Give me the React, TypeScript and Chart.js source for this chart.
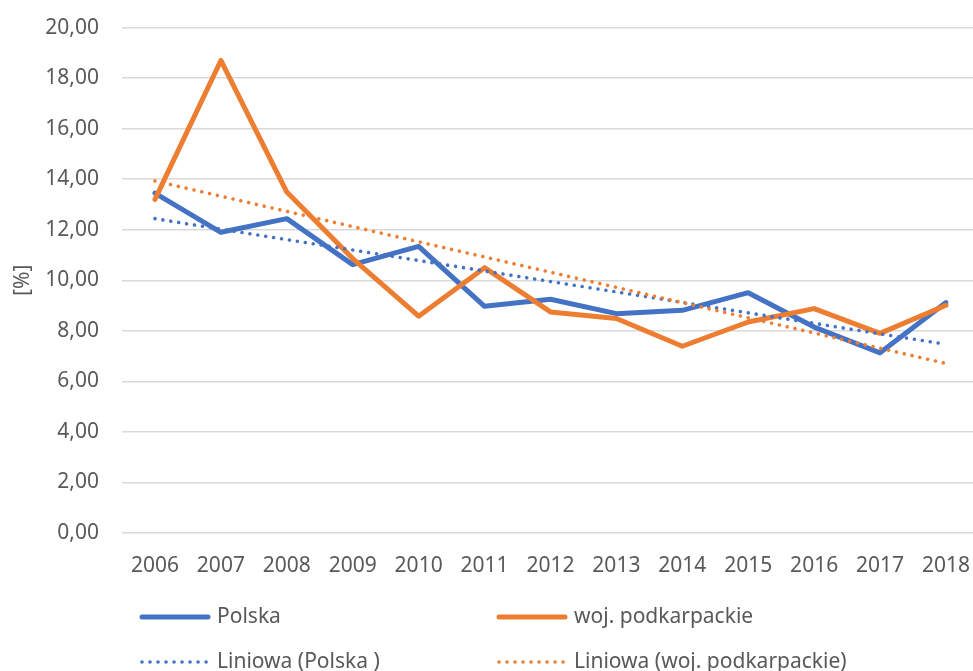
import React, { useEffect, useRef } from "react";
import { Chart, registerables } from "chart.js";

Chart.register(...registerables);

const years = ["2006", "2007", "2008", "2009", "2010", "2011", "2012", "2013", "2014", "2015", "2016", "2017", "2018"];
const polska = [13.45, 11.9, 12.44, 10.62, 11.34, 8.97, 9.25, 8.68, 8.81, 9.51, 8.15, 7.13, 9.12];
const podkarpackie = [13.2, 18.7, 13.49, 10.86, 8.58, 10.5, 8.75, 8.49, 7.39, 8.35, 8.88, 7.9, 9.01];
const trendPolska = [12.44, null, null, null, null, null, null, null, null, null, null, null, 7.47];
const trendPodkarpackie = [13.93, null, null, null, null, null, null, null, null, null, null, null, 6.71];
const seriesLabels = ["Polska", "woj. podkarpackie", "Liniowa (Polska )", "Liniowa (woj. podkarpackie)"];
const yAxisTitle = "[%]";
const yMin = 0;
const yMax = 20;
const yStep = 2;

const BLUE = "#4472C4";
const ORANGE = "#ED7D31";
const TEXT = "#595959";
const GRID = "#D9D9D9";
const FONT = "'Noto Sans', sans-serif";

const legendPlugin = {
  id: "customLegend",
  afterDraw(chart: any) {
    const { ctx, chartArea } = chart;
    const colX = [chartArea.left + 18, chartArea.left + 375];
    const rowY = [chartArea.bottom + 84, chartArea.bottom + 129];
    chart.data.datasets.forEach((ds: any, i: number) => {
      const x = colX[i % 2];
      const y = rowY[Math.floor(i / 2)];
      ctx.save();
      ctx.beginPath();
      ctx.strokeStyle = ds.borderColor;
      ctx.lineWidth = ds.borderWidth;
      ctx.lineCap = "round";
      ctx.setLineDash(ds.borderDash || []);
      ctx.moveTo(x + 2, y);
      ctx.lineTo(x + 68, y);
      ctx.stroke();
      ctx.setLineDash([]);
      ctx.fillStyle = TEXT;
      ctx.font = `21px ${FONT}`;
      ctx.textBaseline = "middle";
      ctx.textAlign = "left";
      ctx.fillText(ds.label, x + 77, y);
      ctx.restore();
    });
  },
};

export default function App() {
  const ref = useRef<HTMLCanvasElement | null>(null);
  useEffect(() => {
    if (!ref.current) return;
    const chart = new Chart(ref.current, {
      type: "line",
      data: {
        labels: years,
        datasets: [
          {
            label: seriesLabels[0],
            data: polska,
            borderColor: BLUE,
            backgroundColor: BLUE,
            borderWidth: 5,
            pointRadius: 0,
            tension: 0,
            borderJoinStyle: "round",
            borderCapStyle: "round",
            order: 4,
          },
          {
            label: seriesLabels[1],
            data: podkarpackie,
            borderColor: ORANGE,
            backgroundColor: ORANGE,
            borderWidth: 5,
            pointRadius: 0,
            tension: 0,
            borderJoinStyle: "round",
            borderCapStyle: "round",
            order: 3,
          },
          {
            label: seriesLabels[2],
            data: trendPolska,
            borderColor: BLUE,
            backgroundColor: BLUE,
            borderWidth: 3.6,
            borderDash: [0.01, 8],
            borderCapStyle: "round",
            pointRadius: 0,
            spanGaps: true,
            order: 2,
          },
          {
            label: seriesLabels[3],
            data: trendPodkarpackie,
            borderColor: ORANGE,
            backgroundColor: ORANGE,
            borderWidth: 3.6,
            borderDash: [0.01, 8],
            borderCapStyle: "round",
            pointRadius: 0,
            spanGaps: true,
            order: 1,
          },
        ] as any,
      },
      options: {
        animation: false,
        responsive: false,
        maintainAspectRatio: false,
        layout: { padding: { left: 0, right: 0, top: 0, bottom: 0 } },
        plugins: {
          legend: { display: false },
          tooltip: { enabled: false },
        },
        scales: {
          x: {
            offset: true,
            grid: { display: false, drawTicks: false, offset: true },
            border: { display: false },
            ticks: {
              color: TEXT,
              font: { family: FONT, size: 21 },
              padding: 20,
              maxRotation: 0,
              autoSkip: false,
            },
            afterFit: (scale: any) => {
              scale.height = 138;
            },
          },
          y: {
            min: yMin,
            max: yMax,
            grid: { color: GRID, lineWidth: 1.6, drawTicks: false },
            border: { display: false },
            ticks: {
              stepSize: yStep,
              color: TEXT,
              padding: 23,
              font: { family: FONT, size: 21 },
              callback: (v: any) => Number(v).toFixed(2).replace(".", ","),
            },
            title: {
              display: true,
              text: yAxisTitle,
              color: TEXT,
              font: { family: FONT, size: 21 },
              padding: { top: 10, bottom: 0 },
            },
            afterFit: (scale: any) => {
              scale.width = 122;
            },
          },
        },
      },
      plugins: [legendPlugin],
    });
    return () => chart.destroy();
  }, []);

  return (
    <div
      style={{
        position: "absolute",
        left: 0,
        top: 0,
        width: 973,
        height: 671,
        overflow: "hidden",
        background: "#fff",
      }}
    >
      <canvas
        ref={ref}
        width={990}
        height={679}
        style={{ display: "block", width: 990, height: 679, marginTop: -8 }}
      />
    </div>
  );
}
